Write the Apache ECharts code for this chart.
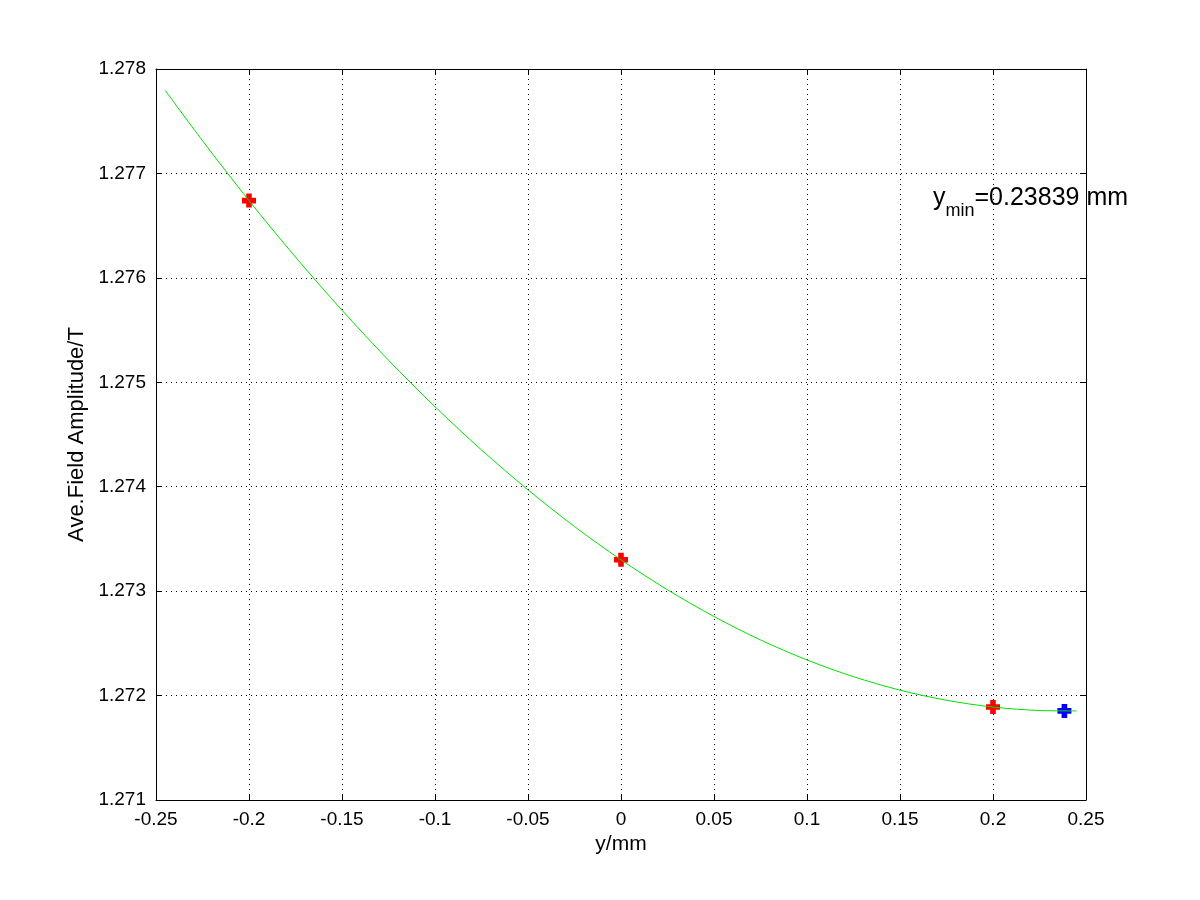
<!DOCTYPE html>
<html><head><meta charset="utf-8">
<script src="https://cdn.jsdelivr.net/npm/echarts@6/dist/echarts.min.js"></script>
<style>html,body{margin:0;padding:0;background:#fff}#c{width:1200px;height:900px}</style>
</head><body><div id="c"></div>
<script>
// Fitted curve
const curveX = [-0.245,-0.225,-0.2,-0.175,-0.15,-0.125,-0.1,-0.075,-0.05,-0.025,0,0.025,0.05,0.075,0.1,0.125,0.15,0.175,0.2,0.225,0.245];
const curveY = [1.277794,1.277313,1.27674,1.276199,1.275690,1.275212,1.274766,1.274352,1.273970,1.273619,1.27330,1.273013,1.272757,1.272533,1.272341,1.272181,1.272052,1.271955,1.27189,1.271857,1.271853];
// Measured points
const measX = [-0.2, 0, 0.2];
const measY = [1.27674, 1.27330, 1.27189];
// Minimum
const minX = [0.23839];
const minY = [1.271853];
const xTicks = [-0.25,-0.2,-0.15,-0.1,-0.05,0,0.05,0.1,0.15,0.2,0.25];
const yTicks = [1.271,1.272,1.273,1.274,1.275,1.276,1.277,1.278];

const font = 'Liberation Sans, Arial, Helvetica, sans-serif';
const plus = 'path://M3,0H7V3H10V7H7V10H3V7H0V3H3Z';
const chart = echarts.init(document.getElementById('c'), null, {renderer:'canvas'});
const zip = (a,b)=>a.map((v,i)=>[v,b[i]]);
function fmtX(v){ return String(Math.round(v*100)/100); }
const axisCommon = {
  axisLine:{show:true,onZero:false,lineStyle:{color:'#000',width:1}},
  axisTick:{show:true,inside:true,length:6,lineStyle:{color:'#000'}},
};
chart.setOption({
  animation:false,
  backgroundColor:'#fff',
  grid:{left:156,right:114,top:69,bottom:100,containLabel:false},
  xAxis:[
    Object.assign({type:'value',min:-0.25,max:0.25,interval:0.05,position:'bottom',
      name:'y/mm',nameLocation:'middle',nameGap:30,
      nameTextStyle:{fontFamily:font,fontSize:21,color:'#000'},
      axisLabel:{fontFamily:font,fontSize:19,color:'#000',margin:10,formatter:v=>fmtX(v)},
      splitLine:{show:true,lineStyle:{color:'#000',type:[1,4],width:1}}},axisCommon),
    Object.assign({type:'value',min:-0.25,max:0.25,interval:0.05,position:'top',
      axisLabel:{show:false},splitLine:{show:false}},axisCommon)
  ],
  yAxis:[
    Object.assign({type:'value',min:1.271,max:1.278,interval:0.001,position:'left',
      name:'Ave.Field Amplitude/T',nameLocation:'middle',nameGap:68,nameRotate:90,
      nameTextStyle:{fontFamily:font,fontSize:22,color:'#000'},
      axisLabel:{fontFamily:font,fontSize:19,color:'#000',margin:10,formatter:v=>v.toFixed(3)},
      splitLine:{show:true,lineStyle:{color:'#000',type:[1,4],width:1}}},axisCommon),
    Object.assign({type:'value',min:1.271,max:1.278,interval:0.001,position:'right',
      axisLabel:{show:false},splitLine:{show:false}},axisCommon)
  ],
  series:[
    {type:'scatter',data:zip(measX,measY),symbol:plus,symbolSize:14,
      itemStyle:{color:'#ff0000',opacity:1},z:2},
    {type:'scatter',data:zip(minX,minY),symbol:plus,symbolSize:14,
      itemStyle:{color:'#0000ff',opacity:1},z:2},
    {type:'line',data:zip(curveX,curveY),smooth:0.3,showSymbol:false,
      lineStyle:{color:'#00e000',width:1},z:3}
  ],
  graphic:[{type:'text',left:933,top:186,z:10,
    style:{text:'{a|y}{b|min}{a|=0.23839 mm}',fontFamily:font,
      rich:{a:{fontSize:25,fontFamily:font,fill:'#000',verticalAlign:'bottom',lineHeight:30},
            b:{fontSize:18,fontFamily:font,fill:'#000',verticalAlign:'bottom',lineHeight:22,padding:[0,0,-9,0]}}}}]
});
</script></body></html>
